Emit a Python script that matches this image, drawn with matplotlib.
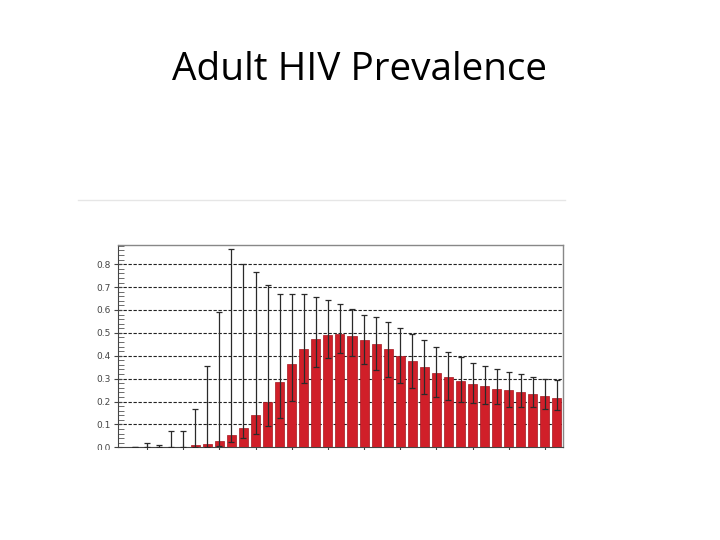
import numpy as np
import matplotlib
matplotlib.use("Agg")
import matplotlib.pyplot as plt
from matplotlib.patches import Rectangle
from matplotlib.lines import Line2D

# 막대 값 (성인 HIV 유병률) 과 오차 구간 하한/상한
prevalence = [0.001, 0.003, 0.003, 0.003, 0.000, 0.010, 0.015, 0.029, 0.053, 0.084,
              0.141, 0.198, 0.286, 0.364, 0.430, 0.475, 0.491, 0.495, 0.487, 0.469,
              0.452, 0.431, 0.399, 0.377, 0.351, 0.325, 0.307, 0.290, 0.277, 0.268,
              0.255, 0.250, 0.242, 0.233, 0.224, 0.216]
upper = [0.002, 0.017, 0.010, 0.070, 0.071, 0.169, 0.354, 0.591, 0.868, 0.801,
         0.765, 0.711, 0.669, 0.669, 0.669, 0.658, 0.643, 0.625, 0.606, 0.577,
         0.571, 0.546, 0.522, 0.494, 0.468, 0.438, 0.415, 0.395, 0.367, 0.355,
         0.341, 0.328, 0.319, 0.307, 0.300, 0.296]
lower = [0.000, 0.000, 0.000, 0.000, 0.000, 0.000, 0.000, 0.005, 0.023, 0.039,
         0.058, 0.093, 0.130, 0.202, 0.280, 0.352, 0.390, 0.412, 0.400, 0.364,
         0.337, 0.309, 0.283, 0.258, 0.234, 0.219, 0.205, 0.198, 0.192, 0.188,
         0.188, 0.178, 0.175, 0.175, 0.169, 0.162]
y_ticks = [0.0, 0.1, 0.2, 0.3, 0.4, 0.5, 0.6, 0.7, 0.8]

RED = "#d01f29"
EDGE = "#a51820"
W, H = 720, 540

fig = plt.figure(figsize=(7.2, 5.4), dpi=100)
fig.patch.set_facecolor("white")

fig.text(360 / W, 1 - 79.5 / H, "Adult HIV Prevalence", ha="center", va="baseline",
         fontsize=27.9, family="Open Sans", color="black")

# 원본 이미지 위쪽 경계선
fig.add_artist(Line2D([78 / W, 565 / W], [1 - 200 / H, 1 - 200 / H],
                      color="#e6e6e6", lw=1.0))

ax = fig.add_axes([117.5 / W, 1 - 447.3 / H, (563 - 117.5) / W, (447.3 - 245) / H])
x = np.arange(len(prevalence))
vals = np.array(prevalence)
yerr = [vals - np.array(lower), np.array(upper) - vals]

ax.bar(x, vals, width=0.75, color=RED, edgecolor=EDGE, linewidth=0.5, zorder=3)
ax.errorbar(x, vals, yerr=yerr, fmt="none", ecolor="#2a2a2a", elinewidth=0.9,
            capsize=2, capthick=0.9, zorder=4)

ax.set_xlim(-1.45, 35.5)
ax.set_ylim(0, 0.884)
ax.set_yticks(y_ticks)
ax.set_yticklabels([f"{t:.1f}" for t in y_ticks])
ax.set_yticks(np.arange(0, 0.884, 0.02), minor=True)
ax.tick_params(axis="y", which="major", direction="inout", length=6, width=0.8,
               labelsize=6.5, labelcolor="#444", color="#444", pad=2)
ax.tick_params(axis="y", which="minor", direction="in", length=4, width=0.6, color="#555")
ax.set_xticks(np.arange(1, 36, 3))
ax.tick_params(axis="x", direction="inout", length=4, width=0.8, color="#444",
               labelbottom=False)

for t in y_ticks[1:]:
    ax.axhline(t, color="#222", lw=0.8, ls=(0, (3, 1.5)), zorder=1)

for side in ["top", "right"]:
    ax.spines[side].set_color("#888")
    ax.spines[side].set_linewidth(1.0)
ax.spines["left"].set_color("#444")
ax.spines["bottom"].set_color("#444")

# 원본처럼 아래쪽을 잘라낸 모양
fig.add_artist(Rectangle((0, 0), 1, 1 - 450 / H, transform=fig.transFigure,
                         facecolor="white", edgecolor="none", zorder=10))

fig.savefig("out.png", dpi=100)
